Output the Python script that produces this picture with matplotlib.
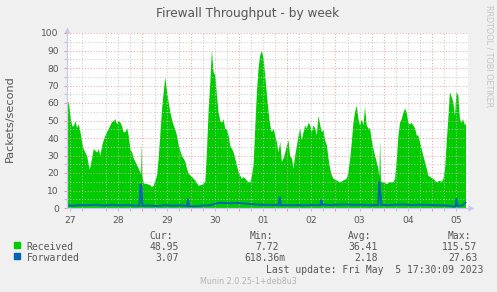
import matplotlib
matplotlib.use("Agg")
import matplotlib.pyplot as plt
from matplotlib.patches import Rectangle
from matplotlib.transforms import blended_transform_factory

# time axis: hours since Apr 27 00:00
recv_hours = [
    10.4, 11.1, 11.9, 12.8, 13.6, 14.4, 15.2, 16.1, 16.9, 17.7,
    18.5, 20.2, 21.5, 22.7, 23.5, 24.3, 25.2, 26.0, 26.8, 27.7,
    28.5, 29.3, 30.1, 31.8, 32.6, 33.5, 34.3, 35.1, 35.9, 36.8,
    37.6, 38.4, 39.3, 40.1, 40.9, 41.7, 42.6, 43.4, 45.1, 46.7,
    47.1, 47.4, 47.7, 48.4, 50.0, 51.7, 52.5, 53.3, 54.2, 55.0,
    55.8, 56.6, 57.5, 58.3, 59.1, 60.0, 60.8, 61.6, 62.4, 63.3,
    64.1, 64.9, 65.8, 66.6, 67.4, 68.2, 69.1, 69.9, 70.7, 71.6,
    72.4, 73.2, 74.0, 75.7, 77.4, 79.0, 79.8, 80.7, 81.5, 82.3,
    83.1, 84.0, 84.8, 85.6, 86.5, 87.3, 88.1, 88.9, 89.8, 90.6,
    91.4, 92.3, 93.1, 93.9, 94.7, 95.6, 96.4, 97.2, 98.1, 98.9,
    99.7, 100.5, 101.4, 102.2, 103.0, 103.9, 104.7, 105.5, 106.3, 107.2,
    108.0, 108.8, 109.7, 110.5, 111.3, 112.1, 113.0, 113.8, 114.6, 115.4,
    116.3, 117.1, 117.9, 118.8, 119.6, 120.4, 121.2, 122.1, 122.9, 123.7,
    124.6, 125.4, 126.2, 127.0, 127.9, 128.7, 129.5, 130.4, 131.2, 132.0,
    132.8, 133.7, 134.5, 135.3, 136.2, 137.0, 137.8, 138.6, 139.5, 140.3,
    141.1, 142.0, 142.8, 144.4, 146.1, 147.7, 149.4, 150.2, 151.1, 151.9,
    152.7, 153.5, 154.4, 155.2, 156.0, 156.9, 157.7, 158.5, 159.3, 160.2,
    161.0, 161.8, 162.7, 163.5, 164.3, 165.1, 165.6, 166.0, 166.4, 166.8,
    167.6, 169.3, 170.9, 172.6, 173.4, 174.3, 175.1, 175.9, 176.7, 177.6,
    178.4, 179.2, 180.0, 180.9, 181.7, 182.5, 183.4, 184.2, 185.0, 185.8,
    186.7, 187.5, 188.3, 189.2, 190.0, 190.8, 192.5, 194.1, 195.8, 196.6,
    197.5, 198.3, 199.1, 199.9, 200.7, 201.6, 202.4, 203.2, 204.0, 204.9,
    205.7, 206.5, 207.3, 208.2, 208.7]

recv_values = [
    60, 61, 53, 47, 47, 50, 46, 48, 43.6, 38,
    34, 30, 22, 28.6, 34, 33, 32, 34, 30, 36,
    39, 41.7, 43.6, 47.4, 49.3, 50, 51, 48, 50, 49,
    47, 43.6, 43.6, 46, 41.7, 34, 32, 28.6, 24.6, 20.7,
    20, 38, 19, 14.3, 14, 13.3, 12.2, 13, 16, 18.8,
    28.6, 41.7, 57, 66.5, 75, 66.5, 60.7, 55, 51, 47.4,
    45, 41.7, 36, 33, 30, 28.6, 26.5, 22.7, 20, 18.8,
    18, 17, 16, 13, 13.5, 15, 32, 57, 72, 90.5,
    78, 76, 64.6, 55, 50, 49, 51, 45.7, 45, 41.7,
    36, 34, 32, 28.6, 24.6, 20.7, 18.8, 17, 18, 17,
    16, 15, 15, 18.8, 24.6, 47.4, 66.5, 80, 87.4, 90,
    85.5, 76, 64.6, 55, 47.4, 43.6, 45.7, 41.7, 38, 32,
    38, 26.5, 28.6, 32, 36, 39, 30, 28.6, 22.7, 30,
    36, 41.7, 45.7, 39, 43.6, 47.4, 45.7, 49, 47.4, 43.6,
    47.4, 45.7, 41.7, 53, 47.4, 43.6, 45, 39, 36, 28.6,
    22.7, 18.8, 17, 16, 15, 16, 17, 20.7, 28.6, 38,
    49, 55, 58.8, 51, 47.4, 51, 47.4, 58, 47.4, 45.7,
    45.7, 39, 34, 30, 26.5, 22.7, 18, 39, 16, 15,
    15, 14, 15, 15, 17, 28.6, 41.7, 49, 51, 55,
    57, 55, 49, 48, 49, 47.4, 45.7, 41.7, 41.7, 38,
    34, 30, 26.5, 22.7, 18.8, 18, 17, 15, 16, 15,
    17, 22.7, 38, 51, 66.5, 63.6, 60.7, 53, 66.5, 64.6,
    51, 49, 51, 47.4, 48.95]

fwd_hours = [
    10.4, 13, 17, 21, 25, 29, 33, 37, 41, 44,
    46.5, 47.0, 47.5, 48.0, 51, 55, 59, 63, 67, 70.1,
    70.6, 71.1, 74, 78, 82, 84.5, 87, 91, 95, 99,
    102, 106, 110, 113, 115.8, 116.3, 116.8, 120, 124, 128,
    132, 136.5, 137.0, 137.5, 141, 145, 149, 153, 157, 161,
    165.3, 165.8, 166.3, 166.8, 170, 174, 178, 182, 186, 190,
    194, 198, 201, 203.0, 203.7, 204.2, 204.7, 207, 208.7]

fwd_values = [
    1.5, 1.3, 1.7, 1.6, 1.9, 1.4, 1.8, 1.5, 1.7, 1.3,
    1.4, 13.7, 12.0, 1.2, 1.5, 1.1, 1.6, 1.3, 1.5, 1.2,
    5.3, 1.1, 0.9, 1.4, 1.6, 2.6, 3.0, 2.7, 2.9, 2.6,
    2.2, 1.9, 1.8, 1.7, 1.8, 6.5, 1.7, 1.6, 1.7, 1.5,
    1.8, 1.7, 4.6, 1.9, 1.7, 1.9, 2.0, 1.8, 1.9, 1.6,
    1.7, 15.0, 9.0, 1.8, 1.6, 1.9, 2.0, 1.7, 1.9, 1.8,
    1.6, 1.5, 1.3, 0.7, 1.0, 5.5, 1.2, 1.4, 3.07]

day_labels = ["27", "28", "29", "30", "01", "02", "03", "04", "05"]
series_names = ["Received", "Forwarded"]
series_colors = ["#00CC00", "#0066B3"]
stat_headers = ["Cur:", "Min:", "Avg:", "Max:"]
stat_values = [
    ["48.95", "7.72", "36.41", "115.57"],
    ["3.07", "618.36m", "2.18", "27.63"],
]

W, H = 497, 292
BG = "#F0F0F0"
TXT = "#555555"
MAJ = "#E89A9A"
MIN = "#C4C4C4"
AXC = "#C8C8F0"


def fx(px):
    return px / W


def fy(py):
    return 1 - py / H


fig = plt.figure(figsize=(W / 100, H / 100), dpi=100, facecolor=BG)
ax = fig.add_axes([fx(66.5), fy(208), (467.7 - 66.5) / W, (208 - 33) / H])
ax.set_facecolor("white")

ax.fill_between(recv_hours, recv_values, color=series_colors[0], lw=0, zorder=1)
ax.plot(fwd_hours, fwd_values, color=series_colors[1], lw=1.4, zorder=3,
        solid_joinstyle="miter")

ax.set_xlim(10.2, 209.8)
ax.set_ylim(0, 100)

# grid: red at midnight / every 10, grey every 6 h / every 5
midnights = [24 * d for d in range(2, 9)]
six_hours = [h for h in range(12, 210, 6) if h % 24 != 0]
minor_labels = [day_labels[(h - 12) // 24] if h % 24 == 12 else "" for h in six_hours]
ax.set_xticks(midnights)
ax.set_xticklabels([])
ax.set_xticks(six_hours, minor_labels, minor=True)
ax.set_yticks(range(0, 101, 10))
ax.set_yticks(range(5, 100, 10), minor=True)

ax.set_axisbelow(False)
ax.grid(which="major", color=MAJ, lw=0.8, ls=(0, (1, 1.6)), alpha=0.8)
ax.grid(which="minor", color=MIN, lw=0.8, ls=(0, (1, 1.6)), alpha=0.8)

ax.tick_params(axis="x", which="major", length=2.5, width=0.8, color=MAJ)
ax.tick_params(axis="x", which="minor", length=2.5, width=0.8, color=MIN,
               labelsize=6.6, labelcolor=TXT, pad=3)
ax.tick_params(axis="y", which="major", length=2.5, width=0.8, color=MAJ,
               labelsize=6.6, labelcolor=TXT, pad=3)
ax.tick_params(axis="y", which="minor", length=2.5, width=0.8, color=MIN)

for s in ["top", "right"]:
    ax.spines[s].set_visible(False)
for s in ["left", "bottom"]:
    ax.spines[s].set_color(AXC)
    ax.spines[s].set_linewidth(0.9)
    ax.spines[s].set_zorder(4)

# axis arrows
ax.plot([0], [1.017], marker="^", ms=4.5, color=AXC, mec="none",
        transform=ax.transAxes, clip_on=False)
ax.plot([1.008], [0], marker=">", ms=4.5, color=AXC, mec="none",
        transform=ax.transAxes, clip_on=False)

# titles
fig.text(fx(248), fy(16.5), "Firewall Throughput - by week", ha="center",
         va="baseline", fontsize=8.7, color=TXT)
fig.text(fx(10), fy(119), "Packets/second", rotation=90, ha="center",
         va="center", fontsize=8.1, color=TXT)
fig.text(fx(489), fy(56.5), "RRDTOOL / TOBI OETIKER", rotation=270,
         ha="center", va="center", fontsize=5.8, color="#C4C4C4")

# legend
mono = "DejaVu Sans Mono"
char_w = 5.9
col_right = [185.2, 285.2, 383.6, 483.2]
for hdr, edge in zip(stat_headers, col_right):
    fig.text(fx(edge - 6 * char_w), fy(238.8), hdr, ha="left", va="baseline",
             family=mono, fontsize=7.05, color=TXT)

row_base = [250, 261.3]
for name, color, vals, yb in zip(series_names, series_colors, stat_values, row_base):
    fig.patches.append(Rectangle((fx(14), fy(yb - 2)), 6 / W, 6 / H,
                                 transform=fig.transFigure, color=color))
    fig.text(fx(26.7), fy(yb), name, ha="left", va="baseline",
             family=mono, fontsize=7.05, color=TXT)
    for v, edge in zip(vals, col_right):
        x = edge if v.endswith("m") else edge - char_w
        fig.text(fx(x), fy(yb), v, ha="right", va="baseline",
                 family=mono, fontsize=7.05, color=TXT)

fig.text(fx(483.3), fy(272.6), "Last update: Fri May  5 17:30:09 2023",
         ha="right", va="baseline", family=mono, fontsize=7.05, color=TXT)
fig.text(fx(248.5), fy(284), "Munin 2.0.25-1+deb8u3", ha="center",
         va="baseline", fontsize=5.8, color="#B4B4B4")

fig.savefig("out.png", dpi=100, facecolor=BG)
